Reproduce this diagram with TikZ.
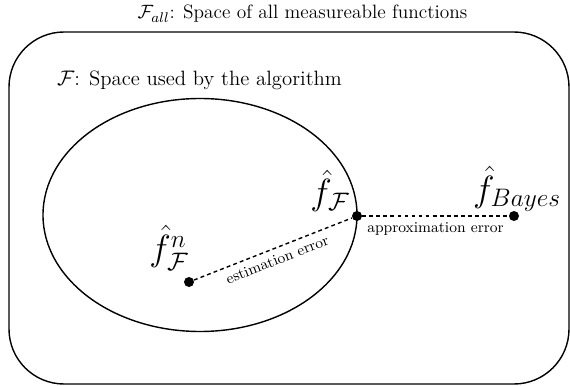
\documentclass[tikz,border=0pt]{standalone}
\usepackage{amsmath}
\usetikzlibrary{positioning}

\begin{document}
\begin{tikzpicture}[
  dot/.style={circle,fill=black,inner sep=0pt,minimum size=2mm},
  errline/.style={thick,dash pattern=on 2.2pt off 1.8pt},
  errlabel/.style={font=\fontsize{8.6}{10}\selectfont},
  fun/.style={font=\huge,inner sep=1pt},
]
\useasboundingbox (0,0) rectangle (11.4,7.7);
\draw[thick,rounded corners=1.1cm] (0.18,0.02) rectangle (11.38,7.06);
\draw[thick] (4.0,3.4) ellipse (3.14cm and 2.33cm);
\node[font=\fontsize{11}{13}\selectfont] (all) at (6.05,7.42) {$\mathcal{F}_{all}$: Space of all measureable functions};
\node[anchor=west,font=\fontsize{11.8}{14}\selectfont] (alg) at (1.02,6.1) {$\mathcal{F}$: Space used by the algorithm};

\node[dot] (fn) at (3.78,2.06) {};
\node[dot] (fF) at (7.14,3.38) {};
\node[dot] (fB) at (10.28,3.38) {};

\node[fun] (fnlab) at (3.38,2.74) {$\hat{f}^n_{\mathcal{F}}$};
\node[fun] (fFlab) at (6.6,3.88) {$\hat{f}_{\mathcal{F}}$};
\node[fun] (fBlab) at (10.34,3.92) {$\hat{f}_{Bayes}$};

\draw[errline] (fn) -- node[below,sloped,errlabel] {estimation error} (fF);
\draw[errline] (fF) -- node[below,errlabel] {approximation error} (fB);
\end{tikzpicture}
\end{document}
